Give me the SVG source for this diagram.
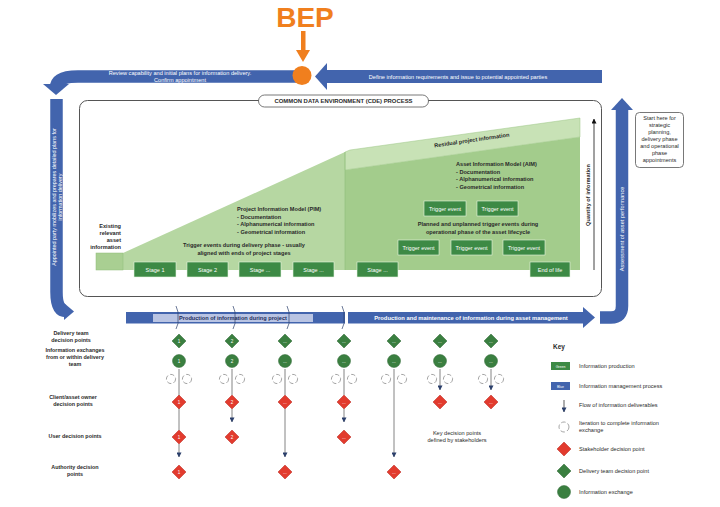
<svg xmlns="http://www.w3.org/2000/svg" width="720" height="507" viewBox="0 0 720 507">
<style>
text{font-family:"Liberation Sans",Arial,sans-serif;fill:#2a2a2a}
.b{font-weight:bold}
.w{fill:#fff}
.s{font-size:5.6px}
.band{fill:#4264ad}
.bandS{fill:none;stroke:#4264ad;stroke-width:12.5}
.stage{fill:#3d8a45;stroke:#e8f3e0;stroke-width:0.6}
.conn{stroke:#666;stroke-width:0.8;fill:none}
.red{fill:#e23b2e;stroke:#b8261c;stroke-width:0.5}
.grn{fill:#3a7f40;stroke:#2c6632;stroke-width:0.5}
.iter{fill:none;stroke:#9a9a9a;stroke-width:0.9;stroke-dasharray:4.5 2.2}
.dn{font-size:4.5px;fill:#fff;text-anchor:middle;font-family:"Liberation Sans",Arial,sans-serif}
</style>
<defs>
<marker id="ah" viewBox="0 0 6 6" refX="5.5" refY="3" markerWidth="5" markerHeight="5" orient="auto" markerUnits="userSpaceOnUse"><path d="M0,0 L6,3 L0,6 Z" fill="#2b3f6b"/></marker>
<marker id="ahk" viewBox="0 0 6 6" refX="5.5" refY="3" markerWidth="5" markerHeight="5" orient="auto" markerUnits="userSpaceOnUse"><path d="M0,0 L6,3 L0,6 Z" fill="#111"/></marker>
<path id="dia" d="M0,-7 L7,0 L0,7 L-7,0 Z"/>
<g id="it"><circle cx="-8" cy="0" r="4.6" class="iter"/><circle cx="8" cy="0" r="4.6" class="iter"/></g>
</defs>

<!-- BEP -->
<g id="bep">
<text x="305" y="27" font-size="28" class="b" style="fill:#f07f1e" text-anchor="middle">BEP</text>
<rect x="301" y="31" width="4.5" height="21" fill="#f07f1e"/>
<polygon points="296,50 310,50 303,62" fill="#f07f1e"/>
</g>

<!-- Top bands -->
<g id="top-bands">
<path class="bandS" d="M296,76.5 H78 Q56,76.5 56,88"/>
<polygon class="band" points="43,84 69,84 56,95"/>
<rect class="band" x="322" y="70" width="280" height="13"/>
<polygon class="band" points="327,63 327,90 315,76.5"/>
<circle cx="302" cy="75.5" r="9.5" fill="#f07f1e"/>
<text class="w s" x="180" y="74.5" text-anchor="middle" font-size="5.4">Review capability and initial plans for information delivery.</text>
<text class="w s" x="180" y="81.5" text-anchor="middle" font-size="5.4">Confirm appointment</text>
<text class="w s" x="458" y="78.5" text-anchor="middle">Define information requirements and issue to potential appointed parties</text>
</g>

<!-- Left band -->
<g id="left-band">
<path class="bandS" d="M56.5,99 V292 Q56.5,311 66,311"/>
<polygon class="band" points="64,303 64,320 74,311.5"/>
<text class="w" font-size="5.4" transform="translate(56.5,197) rotate(-90)" text-anchor="middle"><tspan x="0" y="-1">Appointed party mobilizes and prepares detailed plans for</tspan><tspan x="0" y="5.5">information delivery</tspan></text>
</g>

<!-- Right band -->
<g id="right-band">
<path class="bandS" d="M600,317.5 H611 Q622,317.5 622,306 V108"/>
<polygon class="band" points="611,110 633,110 622,98"/>
<text class="w s" transform="translate(622,229) rotate(-90)" text-anchor="middle" y="2">Assessment of asset performance</text>
</g>

<!-- Start here box -->
<g id="start-here">
<rect x="635.5" y="112.5" width="48" height="55" rx="4" fill="#fff" stroke="#555" stroke-width="0.8"/>
<text class="s" text-anchor="middle" font-size="5.5"><tspan x="659.5" y="120">Start here for</tspan><tspan x="659.5" y="127">strategic</tspan><tspan x="659.5" y="134">planning,</tspan><tspan x="659.5" y="141">delivery phase</tspan><tspan x="659.5" y="148">and operational</tspan><tspan x="659.5" y="155">phase</tspan><tspan x="659.5" y="162">appointments</tspan></text>
</g>

<!-- CDE box -->
<g id="cde">
<rect x="79.5" y="100.5" width="522" height="196" rx="8" fill="#fff" stroke="#555" stroke-width="1"/>
<polygon points="123,253 345,152 345,270 123,270" fill="#b6d7a2"/>
<polygon points="345,152 350,150 580,118 580,137 345,170" fill="#c8e2b6" stroke="#9cc686" stroke-width="0.5"/>
<polygon points="345,170 580,137 580,270 345,270" fill="#a3cc8c"/>
<line x1="345" y1="152" x2="345" y2="270" stroke="#8fbd79" stroke-width="0.6"/>
<rect x="96" y="253" width="27" height="17" fill="#a9cf92" stroke="#8fbd79" stroke-width="0.5"/>
<rect x="258.5" y="95" width="170" height="12" rx="6" fill="#fff" stroke="#555" stroke-width="0.8"/>
<text x="343.5" y="103.2" font-size="5.9" class="b" text-anchor="middle">COMMON DATA ENVIRONMENT (CDE) PROCESS</text>
<text class="b s" text-anchor="end"><tspan x="121" y="228">Existing</tspan><tspan x="121" y="235">relevant</tspan><tspan x="121" y="242">asset</tspan><tspan x="121" y="249">information</tspan></text>
<text class="b s"><tspan x="237" y="211">Project Information Model (PIM)</tspan><tspan x="237" y="218.5">- Documentation</tspan><tspan x="237" y="226">- Alphanumerical information</tspan><tspan x="237" y="233.5">- Geometrical information</tspan></text>
<text class="b s" text-anchor="middle"><tspan x="244" y="247">Trigger events during delivery phase - usually</tspan><tspan x="244" y="254.5">aligned with ends of project stages</tspan></text>
<text class="b s" transform="translate(472,142) rotate(-8.3)" text-anchor="middle">Residual project information</text>
<text class="b s"><tspan x="456" y="166">Asset Information Model (AIM)</tspan><tspan x="456" y="173.5">- Documentation</tspan><tspan x="456" y="181">- Alphanumerical information</tspan><tspan x="456" y="188.5">- Geometrical information</tspan></text>
<text class="b s" text-anchor="middle"><tspan x="478" y="226">Planned and unplanned trigger events during</tspan><tspan x="478" y="233.5">operational phase of the asset lifecycle</tspan></text>
<line x1="594" y1="270" x2="594" y2="119" stroke="#111" stroke-width="0.8" marker-end="url(#ahk)"/>
<text class="b s" transform="translate(589.5,195) rotate(-90)" text-anchor="middle">Quantity of information</text>
</g>

<g id="stages" font-size="5.5">
<rect class="stage" x="134" y="262" width="42" height="15"/><text class="w" x="155" y="271.5" font-size="5.5" text-anchor="middle">Stage 1</text>
<rect class="stage" x="187" y="262" width="41" height="15"/><text class="w" x="207.5" y="271.5" font-size="5.5" text-anchor="middle">Stage 2</text>
<rect class="stage" x="239" y="262" width="42" height="15"/><text class="w" x="260" y="271.5" font-size="5.5" text-anchor="middle">Stage ...</text>
<rect class="stage" x="293" y="262" width="41" height="15"/><text class="w" x="313.5" y="271.5" font-size="5.5" text-anchor="middle">Stage ...</text>
<rect class="stage" x="357" y="262" width="41" height="15"/><text class="w" x="377.5" y="271.5" font-size="5.5" text-anchor="middle">Stage ...</text>
<rect class="stage" x="530" y="262" width="40" height="15"/><text class="w" x="550" y="271.5" font-size="5.5" text-anchor="middle">End of life</text>
</g>
<g id="triggers">
<rect class="stage" x="424" y="201" width="42" height="15"/><text class="w" x="445" y="210.5" font-size="5.5" text-anchor="middle">Trigger event</text>
<rect class="stage" x="477" y="201" width="41" height="15"/><text class="w" x="497.5" y="210.5" font-size="5.5" text-anchor="middle">Trigger event</text>
<rect class="stage" x="398" y="240" width="41" height="15"/><text class="w" x="418.5" y="249.5" font-size="5.5" text-anchor="middle">Trigger event</text>
<rect class="stage" x="451" y="240" width="41" height="15"/><text class="w" x="471.5" y="249.5" font-size="5.5" text-anchor="middle">Trigger event</text>
<rect class="stage" x="503" y="240" width="42" height="15"/><text class="w" x="524" y="249.5" font-size="5.5" text-anchor="middle">Trigger event</text>
</g>

<!-- Bottom bands -->
<g id="bottom-bands">
<rect class="band" x="126" y="312" width="219" height="11.5"/>
<rect x="153" y="314" width="160" height="8" fill="#b9c4e3"/>
<g stroke="#2b3f6b" stroke-width="0.7" fill="none">
<polyline points="176,306 178,312 178,323.5 176,329"/>
<polyline points="233,306 235,312 235,323.5 233,329"/>
<polyline points="287,306 289,312 289,323.5 287,329"/>
<polyline points="342,306 344,312 344,323.5 342,329"/>
</g>
<text x="233" y="320.3" font-size="5.6" class="b" style="fill:#1f2e5c" text-anchor="middle">Production of information during project</text>
<rect class="band" x="348" y="312" width="236" height="11.5"/>
<polygon class="band" points="583,307 583,328 595,317.5"/>
<text class="w b" x="471" y="320" font-size="5.8" text-anchor="middle">Production and maintenance of information during asset management</text>
</g>

<!-- Row labels -->
<g id="row-labels" class="b" font-size="5.4">
<text class="b" font-size="5.4" text-anchor="middle"><tspan x="71" y="335">Delivery team</tspan><tspan x="71" y="342">decision points</tspan></text>
<text class="b" font-size="5.4" text-anchor="middle"><tspan x="75" y="352">Information exchanges</tspan><tspan x="75" y="359">from or within delivery</tspan><tspan x="75" y="366">team</tspan></text>
<text class="b" font-size="5.4" text-anchor="middle"><tspan x="73" y="399">Client/asset owner</tspan><tspan x="73" y="406">decision points</tspan></text>
<text class="b" font-size="5.4" text-anchor="middle" x="75" y="438">User decision points</text>
<text class="b" font-size="5.4" text-anchor="middle"><tspan x="75" y="469">Authority decision</tspan><tspan x="75" y="476">points</tspan></text>
</g>

<!-- Connectors -->
<g id="connectors">
<line class="conn" x1="179" y1="369" x2="179" y2="430"/>
<line class="conn" x1="179" y1="444" x2="179" y2="457" marker-end="url(#ah)"/>
<line class="conn" x1="232" y1="369" x2="232" y2="395"/>
<line class="conn" x1="232" y1="409" x2="232" y2="422" marker-end="url(#ah)"/>
<line class="conn" x1="285" y1="369" x2="285" y2="395"/>
<line class="conn" x1="285" y1="409" x2="285" y2="457" marker-end="url(#ah)"/>
<line class="conn" x1="344" y1="369" x2="344" y2="395"/>
<line class="conn" x1="344" y1="409" x2="344" y2="422" marker-end="url(#ah)"/>
<line class="conn" x1="394" y1="369" x2="394" y2="457" marker-end="url(#ah)"/>
<line class="conn" x1="440" y1="369" x2="440" y2="390" marker-end="url(#ah)"/>
<line class="conn" x1="491" y1="369" x2="491" y2="390" marker-end="url(#ah)"/>
</g>

<!-- Columns of nodes -->
<g id="col1">
<use href="#dia" x="179" y="341" class="grn"/><text class="dn" x="179" y="342.6">1</text>
<circle cx="179" cy="361" r="6.5" class="grn"/><text class="dn" x="179" y="362.6">1</text>
<use href="#it" x="179" y="379"/>
<use href="#dia" x="179" y="402" class="red"/><text class="dn" x="179" y="403.6">1</text>
<use href="#dia" x="179" y="437" class="red"/><text class="dn" x="179" y="438.6">1</text>
<use href="#dia" x="179" y="472" class="red"/><text class="dn" x="179" y="473.6">1</text>
</g>
<g id="col2">
<use href="#dia" x="232" y="341" class="grn"/><text class="dn" x="232" y="342.6">2</text>
<circle cx="232" cy="361" r="6.5" class="grn"/><text class="dn" x="232" y="362.6">2</text>
<use href="#it" x="232" y="379"/>
<use href="#dia" x="232" y="402" class="red"/><text class="dn" x="232" y="403.6">2</text>
<use href="#dia" x="232" y="437" class="red"/><text class="dn" x="232" y="438.6">2</text>
</g>
<g id="col3">
<use href="#dia" x="285" y="341" class="grn"/><text class="dn" x="285" y="342.6">...</text>
<circle cx="285" cy="361" r="6.5" class="grn"/><text class="dn" x="285" y="362.6">...</text>
<use href="#it" x="285" y="379"/>
<use href="#dia" x="285" y="402" class="red"/><text class="dn" x="285" y="403.6">...</text>
<use href="#dia" x="285" y="472" class="red"/><text class="dn" x="285" y="473.6">...</text>
</g>
<g id="col4">
<use href="#dia" x="344" y="341" class="grn"/><text class="dn" x="344" y="342.6">...</text>
<circle cx="344" cy="361" r="6.5" class="grn"/><text class="dn" x="344" y="362.6">...</text>
<use href="#it" x="344" y="379"/>
<use href="#dia" x="344" y="402" class="red"/><text class="dn" x="344" y="403.6">...</text>
<use href="#dia" x="344" y="437" class="red"/><text class="dn" x="344" y="438.6">...</text>
</g>
<g id="col5">
<use href="#dia" x="394" y="341" class="grn"/><text class="dn" x="394" y="342.6">...</text>
<circle cx="394" cy="361" r="6.5" class="grn"/><text class="dn" x="394" y="362.6">...</text>
<use href="#it" x="394" y="379"/>
<use href="#dia" x="394" y="472" class="red"/><text class="dn" x="394" y="473.6">...</text>
</g>
<g id="col6">
<use href="#dia" x="440" y="341" class="grn"/><text class="dn" x="440" y="342.6">...</text>
<circle cx="440" cy="361" r="6.5" class="grn"/><text class="dn" x="440" y="362.6">...</text>
<use href="#it" x="440" y="379"/>
<use href="#dia" x="440" y="402" class="red"/><text class="dn" x="440" y="403.6">...</text>
</g>
<g id="col7">
<use href="#dia" x="491" y="341" class="grn"/><text class="dn" x="491" y="342.6">...</text>
<circle cx="491" cy="361" r="6.5" class="grn"/><text class="dn" x="491" y="362.6">...</text>
<use href="#it" x="491" y="379"/>
<use href="#dia" x="491" y="402" class="red"/><text class="dn" x="491" y="403.6">...</text>
</g>

<g id="stakeholder-note">
<text class="s" text-anchor="middle"><tspan x="457" y="435">Key decision points</tspan><tspan x="457" y="442">defined by stakeholders</tspan></text>
</g>

<!-- Key -->
<g id="key">
<text x="553" y="349" font-size="6.5" class="b">Key</text>
<rect x="551" y="362" width="19" height="8" fill="#3d8a45"/><text x="560.5" y="367.5" font-size="3.5" class="w" text-anchor="middle">Green</text>
<text x="579" y="368" class="s">Information production</text>
<rect x="551" y="382" width="19" height="8" fill="#4264ad"/><text x="560.5" y="387.5" font-size="3.5" class="w" text-anchor="middle">Blue</text>
<text x="579" y="388" class="s">Information management process</text>
<line x1="564" y1="400" x2="564" y2="412" stroke="#333" stroke-width="0.8" marker-end="url(#ah)"/>
<text x="579" y="407" class="s">Flow of information deliverables</text>
<circle cx="564" cy="427" r="5" class="iter"/>
<text class="s"><tspan x="579" y="425">Iteration to complete information</tspan><tspan x="579" y="432">exchange</tspan></text>
<use href="#dia" x="564" y="449" class="red"/>
<text x="579" y="451" class="s">Stakeholder decision point</text>
<use href="#dia" x="564" y="471" class="grn"/>
<text x="579" y="473" class="s">Delivery team decision point</text>
<circle cx="564" cy="492" r="6.5" class="grn"/>
<text x="579" y="494" class="s">Information exchange</text>
</g>
</svg>
